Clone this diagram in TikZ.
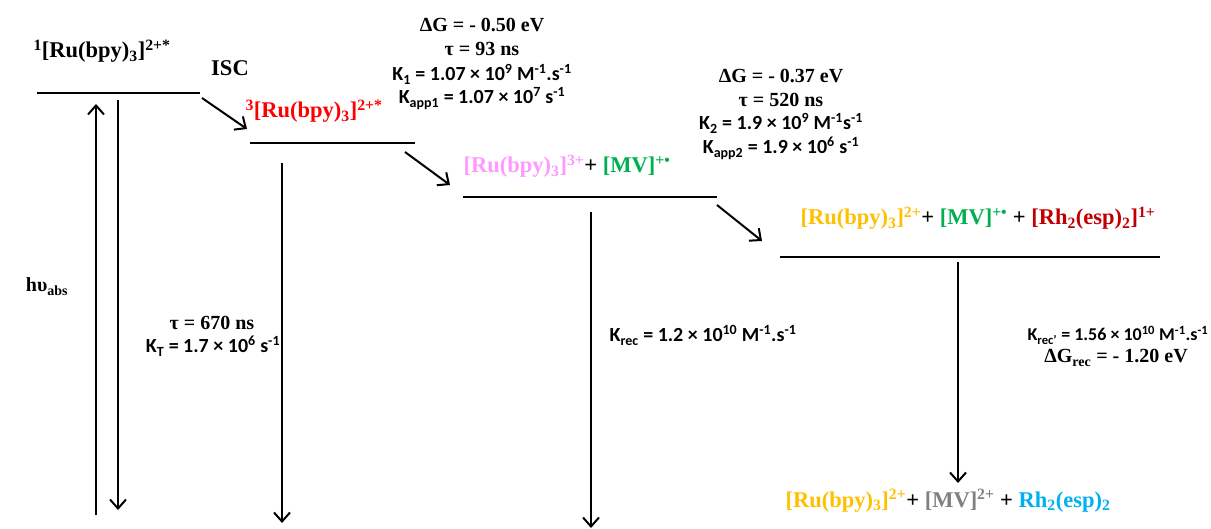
\documentclass[tikz,border=0pt]{standalone}
\usepackage{fontspec}
\usepackage{xcolor}
\usetikzlibrary{arrows.meta,calc}
\setmainfont{Liberation Serif}
\newfontfamily\calibri{Carlito}
\definecolor{rured}{RGB}{255,0,0}
\definecolor{rupink}{RGB}{255,153,255}
\definecolor{mvgreen}{RGB}{0,176,80}
\definecolor{ruyellow}{RGB}{255,192,0}
\definecolor{rhred}{RGB}{192,0,0}
\definecolor{mvgray}{RGB}{128,128,128}
\definecolor{rhblue}{RGB}{0,176,240}
\newcommand{\rubpy}{[Ru(bpy)\textsubscript{3}]}

\begin{document}
\begin{tikzpicture}[x=1pt, y=-1pt,
  level/.style={minimum height=0pt, inner sep=0pt, outer sep=0pt},
  bar/.style={line width=2pt},
  arrow/.style={-{Straight Barb[length=9pt,width=16pt]}, line width=2pt},
  chem/.style={anchor=base, font=\fontsize{22.5}{27}\selectfont\bfseries},
  val/.style={anchor=base, font=\fontsize{20}{24}\selectfont\bfseries},
  rate/.style={anchor=base, font=\fontsize{20}{24}\selectfont\calibri\bfseries}
]
  \useasboundingbox (0,0) rectangle (1211,529);

  % energy levels
  \node[level, minimum width=163pt] (s1) at (118.5,93) {};
  \node[level, minimum width=165pt] (s2) at (332.5,143) {};
  \node[level, minimum width=254pt] (s3) at (590,197) {};
  \node[level, minimum width=380pt] (s4) at (970,257) {};
  \foreach \s in {s1,s2,s3,s4}
    \draw[bar] (\s.west) -- (\s.east);

  % free ends of the vertical arrows
  \coordinate (g0) at (96,515);
  \coordinate (g1) at (118,510);
  \coordinate (g2) at (282,523);
  \coordinate (g3) at (591,528);
  \coordinate (g4) at (958,483);

  % species
  \node[chem] (n1) at (102,58) {\textsuperscript{1}\rubpy\textsuperscript{2+*}};
  \node[chem] (isc) at (230,76) {ISC};
  \node[chem, text=rured] (n3) at (314,118) {\textsuperscript{3}\rubpy\textsuperscript{2+*}};
  \node[chem] (ox) at (567,173) {\textcolor{rupink}{\rubpy\textsuperscript{3+}}+ \textcolor{mvgreen}{[MV]\textsuperscript{+•}}};
  \node[chem] (rd) at (978,225) {\textcolor{ruyellow}{\rubpy\textsuperscript{2+}}+ \textcolor{mvgreen}{[MV]\textsuperscript{+•}} + \textcolor{rhred}{[Rh\textsubscript{2}(esp)\textsubscript{2}]\textsuperscript{1+}}};
  \node[chem] (gs) at (948,507) {\textcolor{ruyellow}{\rubpy\textsuperscript{2+}}+ \textcolor{mvgray}{[MV]\textsuperscript{2+}} + \textcolor{rhblue}{Rh\textsubscript{2}(esp)\textsubscript{2}}};

  % data
  \node[val] (dg1) at (482,32) {ΔG = - 0.50 eV};
  \node[val] (tau1) at (482,56) {τ = 93 ns};
  \node[rate] (k1) at (482,81) {K\textsubscript{1} = 1.07 × 10\textsuperscript{9} M\textsuperscript{-1}.s\textsuperscript{-1}};
  \node[rate] (kapp1) at (482,104) {K\textsubscript{app1} = 1.07 × 10\textsuperscript{7} s\textsuperscript{-1}};
  \node[val] (dg2) at (781,83) {ΔG = - 0.37 eV};
  \node[val] (tau2) at (781,107) {τ = 520 ns};
  \node[rate] (k2) at (781,130) {K\textsubscript{2} = 1.9 × 10\textsuperscript{9} M\textsuperscript{-1}s\textsuperscript{-1}};
  \node[rate] (kapp2) at (781,154) {K\textsubscript{app2} = 1.9 × 10\textsuperscript{6} s\textsuperscript{-1}};
  \node[val] (hv) at (47,292) {hυ\textsubscript{abs}};
  \node[val] (tau0) at (212,330) {τ = 670 ns};
  \node[rate] (kt) at (213,353) {K\textsubscript{T} = 1.7 × 10\textsuperscript{6} s\textsuperscript{-1}};
  \node[rate] (krec) at (703,342) {K\textsubscript{rec} = 1.2 × 10\textsuperscript{10} M\textsuperscript{-1}.s\textsuperscript{-1}};
  \node[rate, font=\fontsize{18}{22}\selectfont\calibri\bfseries] (krec2) at (1118,341) {K\textsubscript{rec’} = 1.56 × 10\textsuperscript{10} M\textsuperscript{-1}.s\textsuperscript{-1}};
  \node[val] (dgrec) at (1116,363) {ΔG\textsubscript{rec} = - 1.20 eV};

  % transfers
  \draw[arrow] ($(s1.east)+(2,5)$) -- ($(s2.west)+(-3,-14)$);
  \draw[arrow] ($(s2.east)+(-10,9)$) -- ($(s3.west)+(-13,-12)$);
  \draw[arrow] ($(s3.east)+(0,8)$) -- ($(s4.west)+(-18,-16)$);

  % absorption and decays
  \draw[arrow] (g0) -- ($(s1.south -| g0)+(0,11)$);
  \draw[arrow] ($(s1.south -| g1)+(0,7)$) -- (g1);
  \draw[arrow] ($(s2.south -| g2)+(0,20)$) -- (g2);
  \draw[arrow] ($(s3.south -| g3)+(0,15)$) -- (g3);
  \draw[arrow] ($(s4.south -| g4)+(0,5)$) -- (g4);
\end{tikzpicture}
\end{document}
